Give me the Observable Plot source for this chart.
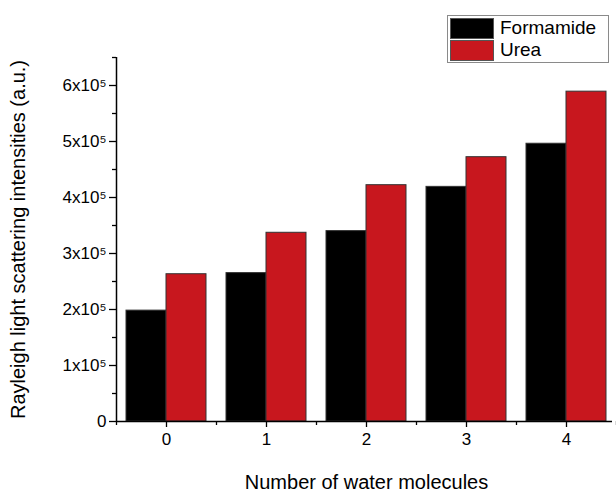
<!DOCTYPE html>
<html>
<head>
<meta charset="utf-8">
<script src="https://cdn.jsdelivr.net/npm/d3@7"></script>
<script src="https://cdn.jsdelivr.net/npm/@observablehq/plot@0.6"></script>
<style>
  html, body { margin: 0; padding: 0; background: #fff; }
  #wrap { position: relative; width: 616px; height: 493px; font-family: "Liberation Sans", Arial, sans-serif; }
  #legend { position: absolute; left: 447px; top: 15px; width: 162px; border: 1px solid #8a8a8a; background: #fff; box-sizing: border-box; padding: 1px 2px; }
  .row { display: flex; align-items: center; height: 22px; }
  .sw { width: 44px; height: 21px; margin-right: 6px; box-sizing: border-box; border: 1px solid #555; }
  .lab { font-size: 19px; color: #000; }
</style>
</head>
<body>
<div id="wrap"></div>
<script>
const molecules = [0, 1, 2, 3, 4];
const formamide = [1.98e5, 2.65e5, 3.40e5, 4.19e5, 4.96e5];
const urea = [2.63e5, 3.37e5, 4.22e5, 4.72e5, 5.89e5];
const seriesNames = ["Formamide", "Urea"];
const seriesColors = ["#000000", "#c8171e"];
const yMajorTicks = [0, 1e5, 2e5, 3e5, 4e5, 5e5, 6e5];
const yMinorTicks = [0.5e5, 1.5e5, 2.5e5, 3.5e5, 4.5e5, 5.5e5, 6.5e5];
const xMinorTicks = [-0.5, 0.5, 1.5, 2.5, 3.5, 4.5];
const xLabel = "Number of water molecules";
const yLabel = "Rayleigh light scattering intensities (a.u.)";

const barWidth = 0.4;
const rows = [];
[formamide, urea].forEach((vals, s) => {
  vals.forEach((v, i) => {
    const m = molecules[i];
    rows.push({ m, series: seriesNames[s], value: v, x1: m + (s - 1) * barWidth, x2: m + s * barWidth });
  });
});

const supFmt = d => d === 0 ? "0" : `${Math.round(d / 1e5)}x10\u2075`;

const chart = Plot.plot({
  width: 616,
  height: 493,
  marginLeft: 116,
  marginRight: 0,
  marginTop: 57,
  marginBottom: 72,
  style: { fontFamily: "Liberation Sans, Arial, sans-serif", fontSize: "17px", color: "#000", background: "transparent" },
  x: { domain: [-0.5, 4.5], axis: null, label: null },
  y: { domain: [0, 6.5e5], axis: null, label: null },
  color: { domain: seriesNames, range: seriesColors },
  marks: [
    Plot.rectY(rows, { x1: "x1", x2: "x2", y1: 0, y2: "value", fill: "series", stroke: "#333", strokeWidth: 1 }),
    Plot.ruleX([-0.5], { y1: 0, y2: 6.5e5, stroke: "#000", strokeWidth: 1.5 }),
    Plot.ruleY([0], { x1: -0.5, x2: 4.46, stroke: "#000", strokeWidth: 1.5 }),
    Plot.axisY({ ticks: yMajorTicks, tickFormat: supFmt, tickSize: 7, tickPadding: 3, strokeWidth: 1.3, fontSize: 17, label: null }),
    Plot.axisY({ ticks: yMinorTicks, tickFormat: () => "", tickSize: 4, strokeWidth: 1.3, label: null }),
    Plot.axisX({ ticks: molecules, tickFormat: d => String(d), tickSize: 6, tickPadding: 5, strokeWidth: 1.3, fontSize: 17, label: null }),
    Plot.axisX({ ticks: xMinorTicks, tickFormat: () => "", tickSize: 4, strokeWidth: 1.3, label: null }),
    Plot.text([xLabel], { frameAnchor: "bottom", dy: 61, lineAnchor: "middle", fontSize: 20, fill: "#000" }),
    Plot.text([yLabel], { frameAnchor: "left", dx: -98, rotate: -90, lineAnchor: "middle", textAnchor: "middle", fontSize: 20, fill: "#000" })
  ]
});

const wrap = document.getElementById("wrap");
wrap.appendChild(chart);

const legend = document.createElement("div");
legend.id = "legend";
seriesNames.forEach((name, i) => {
  const row = document.createElement("div");
  row.className = "row";
  const sw = document.createElement("div");
  sw.className = "sw";
  sw.style.background = seriesColors[i];
  const lab = document.createElement("span");
  lab.className = "lab";
  lab.textContent = name;
  row.appendChild(sw);
  row.appendChild(lab);
  legend.appendChild(row);
});
wrap.appendChild(legend);
</script>
</body>
</html>
